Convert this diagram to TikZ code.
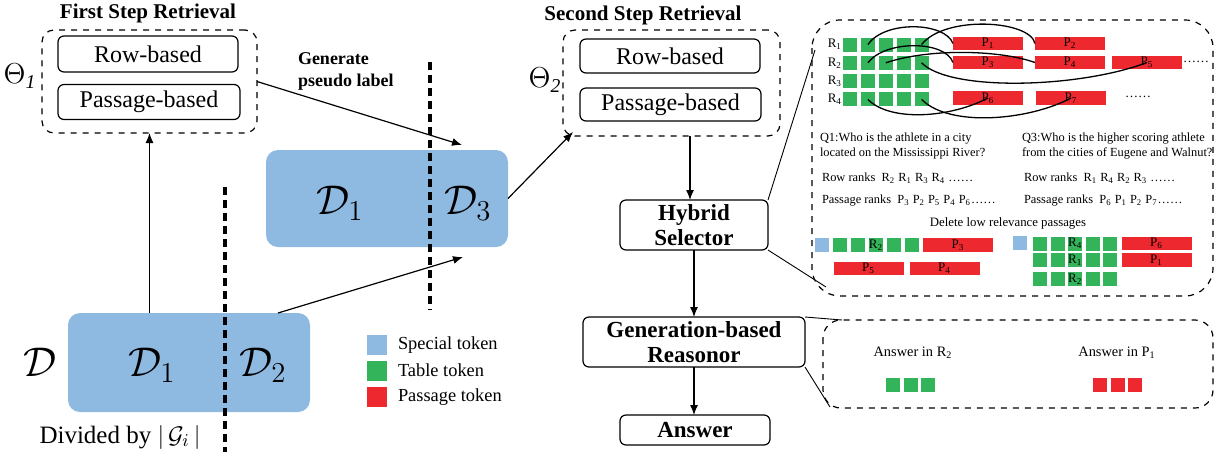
\documentclass[tikz,border=0pt]{standalone}
\usepackage{fontspec}
\setmainfont{Liberation Serif}
\usetikzlibrary{arrows.meta, positioning}

\definecolor{tokblue}{RGB}{142,186,226}
\definecolor{tokgreen}{RGB}{51,179,90}
\definecolor{tokred}{RGB}{237,41,47}

\begin{document}
\begin{tikzpicture}[
    x=0.5pt, y=-0.5pt,
    every node/.style={inner sep=0pt, outer sep=0pt},
    modbox/.style={draw, rounded corners=3pt, line width=0.6pt, font=\fontsize{12}{13}\selectfont},
    stagebox/.style={draw, rounded corners=3pt, line width=0.6pt, align=center, font=\fontsize{11.5}{12.5}\selectfont\bfseries},
    groupbox/.style={draw, dashed, rounded corners=6pt, line width=0.6pt},
    databox/.style={fill=tokblue, rounded corners=6pt},
    cutline/.style={line width=1.7pt, dash pattern=on 4pt off 2.5pt},
    arr/.style={-{Latex[length=5pt,width=4pt]}, line width=0.6pt},
    zoomline/.style={line width=0.45pt},
    linkline/.style={line width=0.65pt},
    steptitle/.style={font=\fontsize{10.5}{12}\selectfont\bfseries},
    bigmath/.style={font=\fontsize{20}{24}\selectfont},
    gtok/.style={fill=tokgreen, minimum size=7pt, font=\fontsize{6.5}{7}\selectfont},
    btok/.style={fill=tokblue, minimum size=7pt},
    rtok/.style={fill=tokred, minimum width=35pt, minimum height=6.8pt, font=\fontsize{6.5}{7}\selectfont},
    qtext/.style={font=\fontsize{6.2}{7.4}\selectfont, anchor=west},
    legtext/.style={font=\fontsize{9.2}{10}\selectfont, anchor=west},
    ]
\useasboundingbox (0,0) rectangle (1223,452);

% first step retrieval
\node[steptitle] (title1) at (148,13) {First Step Retrieval};
\node[groupbox, minimum width=107.5pt, minimum height=51.5pt] (theta1) at (149.5,81.5) {};
\node[modbox, minimum width=90pt, minimum height=18pt] (rowA) at (148,54) {Row-based};
\node[modbox, minimum width=91pt, minimum height=17.5pt] (psgA) at (149,102) {Passage-based};
\node[font=\fontsize{14}{16}\selectfont] (thetaA) at (20,76) {$\Theta_{\mathit{1}}$};

% data split
\node[databox, minimum width=121pt, minimum height=49.5pt] (dfull) at (189,362.5) {};
\node[databox, minimum width=121pt, minimum height=48.5pt] (dpseudo) at (387,198.5) {};
\node[bigmath] (dall) at (40,362) {$\mathcal{D}$};
\node[bigmath] (dA) at (152,365) {$\mathcal{D}_1$};
\node[bigmath] (dB) at (263,365) {$\mathcal{D}_2$};
\node[bigmath] (dC) at (340,203) {$\mathcal{D}_1$};
\node[bigmath] (dD) at (468,203) {$\mathcal{D}_3$};
\node[font=\fontsize{12.5}{14}\selectfont] (divided) at (120,437) {Divided by $|\,\mathcal{G}_i\,|$};
\draw[cutline] (225,187) -- (225,452);
\draw[cutline] (430,62) -- (430,310);

\node[font=\fontsize{9}{11}\selectfont\bfseries, align=left, anchor=west] (pseudo) at (298,71) {Generate\\pseudo label};
\coordinate (pseudoend) at (462,145);
\coordinate (dBtop) at (278,313);
\coordinate (dDin) at (463,257);
\coordinate (thetaBin) at (573,132);
\draw[arr] (theta1.south |- dfull.north) -- (theta1.south);
\draw[arr] (theta1.east) -- (pseudoend);
\draw[arr] (dBtop) -- (dDin);
\draw[arr] (dpseudo.east) -- (thetaBin);

% legend
\node[btok, minimum size=10pt] (legB) at (377,345) {};
\node[gtok, minimum size=10pt] (legG) at (377,370.5) {};
\node[fill=tokred, minimum size=10pt] (legR) at (377,397) {};
\node[legtext] at (398,345) {Special token};
\node[legtext] at (398,370.5) {Table token};
\node[legtext] at (398,397) {Passage token};

% second step retrieval
\node[steptitle] (title2) at (643,15) {Second Step Retrieval};
\node[groupbox, minimum width=108.5pt, minimum height=53pt] (theta2) at (671.5,83) {};
\node[modbox, minimum width=90pt, minimum height=17pt] (rowB) at (670,56) {Row-based};
\node[modbox, minimum width=90.5pt, minimum height=16.5pt] (psgB) at (670.5,104.5) {Passage-based};
\node[font=\fontsize{14}{16}\selectfont] (thetaB) at (545,80) {$\Theta_{\mathit{2}}$};

\node[stagebox, minimum width=74pt, minimum height=25pt] (hybrid) at (694,225) {Hybrid\\Selector};
\node[stagebox, minimum width=111pt, minimum height=25pt] (reasonor) at (694,342) {Generation-based\\Reasonor};
\node[stagebox, minimum width=75pt, minimum height=15pt] (answer) at (695,430) {Answer};
\draw[arr] ([xshift=-2pt]hybrid.north |- theta2.south) -- ([xshift=-2pt]hybrid.north);
\draw[arr] (hybrid.south) -- (reasonor.north);
\draw[arr] (reasonor.south) -- (reasonor.south |- answer.north);

% selector panel
\draw[groupbox, rounded corners=14pt] (812,20) rectangle (1213,296);
\coordinate (selTop) at (815,50);
\coordinate (selBot) at (826,287);
\draw[zoomline] (hybrid.north east) -- (selTop);
\draw[zoomline] (hybrid.south east) -- (selBot);

\foreach \r in {1,...,4} {
  \node[font=\fontsize{6.5}{7}\selectfont, anchor=east] (rl\r) at (842,{44.5+(\r-1)*18.3}) {R\textsubscript{\r}};
  \foreach \c in {1,...,5}
    \node[gtok] (g\r\c) at ({850+(\c-1)*17.9},{44.5+(\r-1)*18.3}) {};
}
\node[rtok] (p1) at (988,43.5) {P\textsubscript{1}};
\node[rtok] (p2) at (1070,43.5) {P\textsubscript{2}};
\node[rtok] (p3) at (988,62.5) {P\textsubscript{3}};
\node[rtok] (p4) at (1070,62.5) {P\textsubscript{4}};
\node[rtok] (p5) at (1147,62.5) {P\textsubscript{5}};
\node[rtok] (p6) at (988,98) {P\textsubscript{6}};
\node[rtok] (p7) at (1071,98) {P\textsubscript{7}};
\node[font=\fontsize{6.5}{7}\selectfont] (moreA) at (1196,62) {……};
\node[font=\fontsize{6.5}{7}\selectfont] (moreB) at (1138,97) {……};

\draw[linkline] (g12.center) .. controls (885,20) and (945,22) .. (p1.west);
\draw[linkline] (g15.center) .. controls (945,15) and (1030,20) .. (p2.west);
\draw[linkline] (g22.center) .. controls (885,40) and (945,40) .. (p3.west);
\draw[linkline] (g23.center) .. controls (930,48) and (1000,50) .. (p4.west);
\draw[linkline] (g25.center) .. controls (950,92) and (1080,88) .. (p5.center);
\draw[linkline] (g42.center) .. controls (890,122) and (950,118) .. (p6.center);
\draw[linkline] (g45.center) .. controls (950,128) and (1030,120) .. (p7.center);

\node[qtext, align=left] (q1) at (820,146) {Q1:Who is the athlete in a city\\located on the Mississippi River?};
\node[qtext, align=left] (q3) at (1022,146) {Q3:Who is the higher scoring athlete\\from the cities of Eugene and Walnut?};
\node[qtext] (rrA) at (822,178) {Row ranks\enspace R\textsubscript{2} R\textsubscript{1} R\textsubscript{3} R\textsubscript{4} ……};
\node[qtext] (rrB) at (1024,178) {Row ranks\enspace R\textsubscript{1} R\textsubscript{4} R\textsubscript{2} R\textsubscript{3} ……};
\node[qtext] (prA) at (822,201) {Passage ranks\enspace P\textsubscript{3} P\textsubscript{2} P\textsubscript{5} P\textsubscript{4} P\textsubscript{6}……};
\node[qtext] (prB) at (1024,201) {Passage ranks\enspace P\textsubscript{6} P\textsubscript{1} P\textsubscript{2} P\textsubscript{7}……};
\node[font=\fontsize{6.4}{7.4}\selectfont] (delete) at (1008,223) {Delete low relevance passages};

% selected tokens, Q1
\node[btok] (sb1) at (822,245) {};
\foreach \c/\t in {1/,2/,3/R\textsubscript{2},4/,5/}
  \node[gtok] (s1\c) at ({840+(\c-1)*18},245) {\t};
\node[rtok] (s1p3) at (958,245) {P\textsubscript{3}};
\node[rtok] (s1p5) at (868.5,268.5) {P\textsubscript{5}};
\node[rtok] (s1p4) at (944.5,268.5) {P\textsubscript{4}};

% selected tokens, Q3
\node[btok] (sb3) at (1020,243) {};
\foreach \r/\y/\t in {1/243.5/R\textsubscript{4},2/260/R\textsubscript{1},3/279/R\textsubscript{2}}
  \foreach \c in {1,...,5} {
    \ifnum\c=3
      \node[gtok] (s3\r\c) at ({1040+(\c-1)*17.6},\y) {\t};
    \else
      \node[gtok] (s3\r\c) at ({1040+(\c-1)*17.6},\y) {};
    \fi
  }
\node[rtok] (s3p6) at (1156.5,243.5) {P\textsubscript{6}};
\node[rtok] (s3p1) at (1156.5,260) {P\textsubscript{1}};

% reasonor panel
\draw[groupbox, rounded corners=9pt] (823,320) rectangle (1213,408);
\coordinate (ansTop) at (842,320);
\coordinate (ansBot) at (830,407);
\draw[zoomline] (reasonor.north east) -- (ansTop);
\draw[zoomline] (reasonor.south east) -- (ansBot);
\node[font=\fontsize{7.2}{8}\selectfont] (ansR) at (913,353) {Answer in R\textsubscript{2}};
\node[font=\fontsize{7.2}{8}\selectfont] (ansP) at (1117,353) {Answer in P\textsubscript{1}};
\foreach \c in {1,2,3} {
  \node[gtok] (ag\c) at ({893+(\c-1)*17.5},385) {};
  \node[fill=tokred, minimum size=7pt] (ar\c) at ({1100+(\c-1)*17.5},385) {};
}
\end{tikzpicture}
\end{document}
